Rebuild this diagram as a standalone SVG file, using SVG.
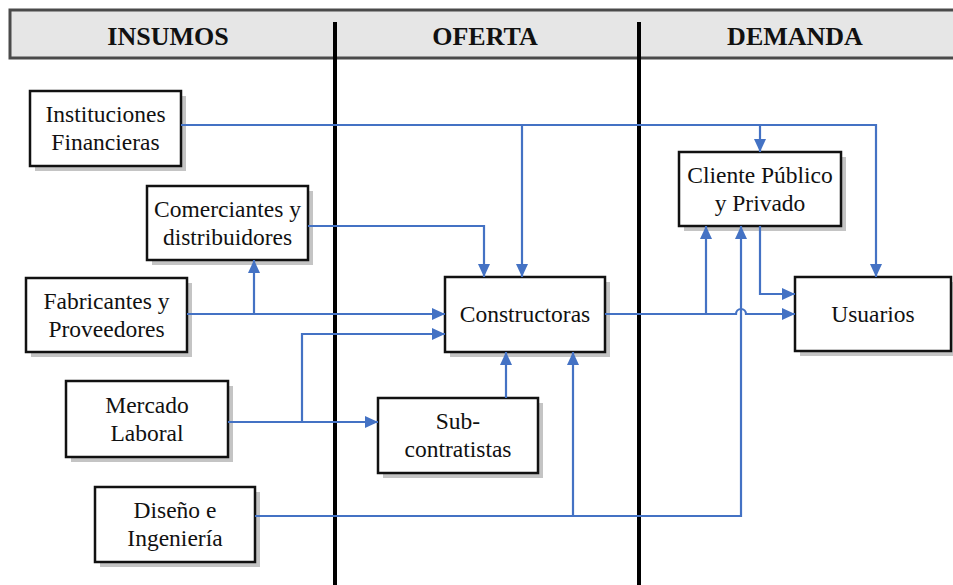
<svg xmlns="http://www.w3.org/2000/svg" width="953" height="585" viewBox="0 0 953 585">
<style>
.hdr{fill:#e6e6e6;stroke:#4a4a4a;stroke-width:3}
.ht{font-family:"Liberation Serif","Times New Roman",serif;font-weight:bold;font-size:26px;fill:#111;text-anchor:middle}
.lane{stroke:#000;stroke-width:4;fill:none}
.box{fill:#fff;stroke:#111;stroke-width:2.5}
.sh{fill:#c4c4c4}
.t{font-family:"Liberation Serif","Times New Roman",serif;font-size:23.5px;fill:#111;text-anchor:middle}
.c{fill:none;stroke:#4472c4;stroke-width:2.2}
.a{marker-end:url(#arr)}
</style>
<defs>
<marker id="arr" markerUnits="userSpaceOnUse" markerWidth="13" markerHeight="12" refX="13" refY="6" orient="auto">
<path d="M0,0 L13,6 L0,12 z" fill="#4472c4"/>
</marker>
</defs>
<rect width="953" height="585" fill="#fff"/>
<g id="header">
<rect class="hdr" x="10" y="10" width="960" height="48"/>
<text class="ht" x="168" y="45">INSUMOS</text>
<text class="ht" x="485" y="45">OFERTA</text>
<text class="ht" x="795" y="45">DEMANDA</text>
</g>
<g id="lanes">
<line class="lane" x1="335" y1="22" x2="335" y2="585"/>
<line class="lane" x1="639" y1="22" x2="639" y2="585"/>
</g>
<g id="instituciones">
<rect class="sh" x="35" y="96" width="151" height="75"/>
<rect class="box" x="30" y="91" width="151" height="75"/>
<text class="t" x="105.5" y="122">Instituciones</text>
<text class="t" x="105.5" y="150">Financieras</text>
</g>
<g id="comerciantes">
<rect class="sh" x="152" y="191" width="161" height="74"/>
<rect class="box" x="147" y="186" width="161" height="74"/>
<text class="t" x="227.5" y="216.5">Comerciantes y</text>
<text class="t" x="227.5" y="244.5">distribuidores</text>
</g>
<g id="fabricantes">
<rect class="sh" x="31" y="283" width="161" height="74"/>
<rect class="box" x="26" y="278" width="161" height="74"/>
<text class="t" x="106.5" y="308.5">Fabricantes y</text>
<text class="t" x="106.5" y="336.5">Proveedores</text>
</g>
<g id="mercado">
<rect class="sh" x="71" y="386" width="162" height="76"/>
<rect class="box" x="66" y="381" width="162" height="76"/>
<text class="t" x="147" y="412.5">Mercado</text>
<text class="t" x="147" y="440.5">Laboral</text>
</g>
<g id="diseno">
<rect class="sh" x="100" y="492" width="160" height="75"/>
<rect class="box" x="95" y="487" width="160" height="75"/>
<text class="t" x="175" y="518">Diseño e</text>
<text class="t" x="175" y="546">Ingeniería</text>
</g>
<g id="constructoras">
<rect class="sh" x="450" y="282" width="160" height="75"/>
<rect class="box" x="445" y="277" width="160" height="75"/>
<text class="t" x="525" y="322">Constructoras</text>
</g>
<g id="subcontratistas">
<rect class="sh" x="383" y="403" width="160" height="75"/>
<rect class="box" x="378" y="398" width="160" height="75"/>
<text class="t" x="458" y="429">Sub-</text>
<text class="t" x="458" y="457">contratistas</text>
</g>
<g id="cliente">
<rect class="sh" x="684" y="157" width="162" height="74"/>
<rect class="box" x="679" y="152" width="162" height="74"/>
<text class="t" x="760" y="182.5">Cliente Público</text>
<text class="t" x="760" y="210.5">y Privado</text>
</g>
<g id="usuarios">
<rect class="sh" x="800" y="282" width="156" height="74"/>
<rect class="box" x="795" y="277" width="156" height="74"/>
<text class="t" x="873" y="321.5">Usuarios</text>
</g>
<g id="connectors">
<path class="c a" d="M181,125 H876 V277"/>
<path class="c a" d="M522,125 V277"/>
<path class="c a" d="M760,125 V152"/>
<path class="c a" d="M308,226 H484 V277"/>
<path class="c a" d="M187,314 H445"/>
<path class="c a" d="M254,314 V260"/>
<path class="c a" d="M228,422 H378"/>
<path class="c a" d="M302,422 V334 H445"/>
<path class="c a" d="M506,398 V352"/>
<path class="c a" d="M255,516 H741 V226"/>
<path class="c a" d="M573,516 V352"/>
<path class="c a" d="M605,314 H736 A5,5 0 0 1 746,314 H795"/>
<path class="c a" d="M706,314 V226"/>
<path class="c a" d="M760,226 V294 H795"/>
</g>
</svg>
